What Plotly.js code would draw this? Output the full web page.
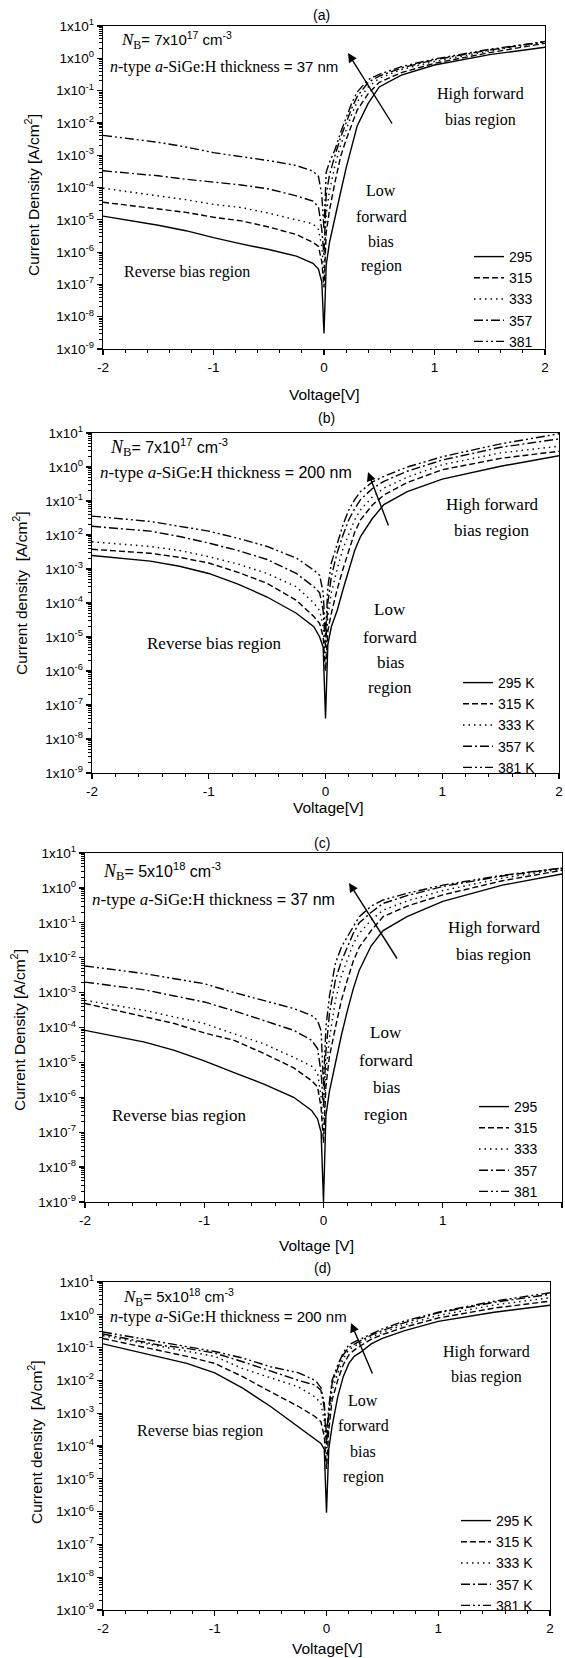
<!DOCTYPE html>
<html>
<head>
<meta charset="utf-8">
<script src="https://cdn.plot.ly/plotly-3.0.1.min.js"></script>
<style>html,body{margin:0;padding:0;background:#fff;}#chart{width:565px;height:1658px;}</style>
</head>
<body>
<div id="chart"></div>
<script>
// ---------------- DATA ----------------
const voltage = [-2, -1.5, -1.25, -1, -0.75, -0.5, -0.25, -0.1, -0.05, -0.02, 0, 0.02, 0.05, 0.1, 0.15, 0.2, 0.25, 0.3, 0.4, 0.5, 0.7, 1.0, 1.5, 2.0];
const tempLabelsA = ['295', '315', '333', '357', '381'];
const tempLabelsB = ['295 K', '315 K', '333 K', '357 K', '381 K'];
const yTickVals = [1e-9, 1e-8, 1e-7, 1e-6, 1e-5, 1e-4, 1e-3, 1e-2, 1e-1, 1e0, 1e1];
const yTickText = ['1x10<sup>-9</sup>', '1x10<sup>-8</sup>', '1x10<sup>-7</sup>', '1x10<sup>-6</sup>', '1x10<sup>-5</sup>', '1x10<sup>-4</sup>', '1x10<sup>-3</sup>', '1x10<sup>-2</sup>', '1x10<sup>-1</sup>', '1x10<sup>0</sup>', '1x10<sup>1</sup>'];
const xTickVals = [-2, -1, 0, 1, 2];
const xTickText = ['-2', '-1', '0', '1', '2'];

// (a) N_B = 7e17, 37 nm
const a295 = [1.3e-5, 6.8e-6, 4.6e-6, 2.8e-6, 1.8e-6, 1.2e-6, 7.5e-7, 4.5e-7, 3e-7, 1.2e-7, 3e-9, 4e-7, 2e-6, 1.3e-5, 7e-5, 4e-4, 1.8e-3, 8e-3, 4e-2, 0.13, 0.3, 0.62, 1.3, 2.2];
const a315 = [3.5e-5, 2.1e-5, 1.7e-5, 1.2e-5, 9.3e-6, 6e-6, 3.5e-6, 2e-6, 1.5e-6, 5e-7, 8e-8, 4e-6, 2e-5, 1.5e-4, 9e-4, 3e-3, 9e-3, 2.5e-2, 8e-2, 0.18, 0.36, 0.7, 1.5, 2.9];
const a333 = [9.5e-5, 5.5e-5, 4.2e-5, 3e-5, 2.4e-5, 1.6e-5, 1e-5, 7.5e-6, 5e-6, 1.5e-6, 2e-7, 1.5e-5, 8e-5, 5e-4, 2e-3, 6e-3, 1.8e-2, 4.5e-2, 0.13, 0.24, 0.45, 0.8, 1.7, 3.2];
const a357 = [3.3e-4, 2.3e-4, 1.8e-4, 1.5e-4, 1.2e-4, 9e-5, 5.5e-5, 3.8e-5, 2.5e-5, 5e-6, 8e-7, 6e-5, 2.5e-4, 1e-3, 3.5e-3, 1e-2, 2.8e-2, 6.5e-2, 0.18, 0.28, 0.5, 0.9, 1.8, 3.3];
const a381 = [4.1e-3, 2.5e-3, 1.8e-3, 1.2e-3, 9e-4, 6.8e-4, 4.8e-4, 3.2e-4, 2.2e-4, 6e-5, 5e-6, 3e-4, 6e-4, 1.5e-3, 5e-3, 1.5e-2, 4e-2, 9e-2, 0.22, 0.32, 0.55, 0.95, 1.9, 3.3];

// (b) N_B = 7e17, 200 nm
const b295 = [2.5e-3, 1.7e-3, 1.2e-3, 7.4e-4, 3.6e-4, 1.5e-4, 5e-5, 2e-5, 1e-5, 5e-6, 4e-8, 6e-6, 2e-5, 6e-5, 2.5e-4, 1e-3, 3.5e-3, 9e-3, 3e-2, 7.8e-2, 0.19, 0.44, 1.05, 2.15];
const b315 = [3.8e-3, 2.9e-3, 2.2e-3, 1.5e-3, 8e-4, 3.8e-4, 1.2e-4, 4e-5, 2.5e-5, 1e-5, 1e-6, 1.5e-5, 5e-5, 2.5e-4, 1e-3, 3.6e-3, 1.2e-2, 2.8e-2, 7.5e-2, 0.15, 0.35, 0.83, 1.8, 2.9];
const b333 = [6.3e-3, 4.6e-3, 3.5e-3, 2.3e-3, 1.4e-3, 7.4e-4, 3e-4, 1e-4, 6e-5, 2e-5, 2e-6, 4e-5, 2e-4, 1e-3, 4e-3, 1.1e-2, 2.8e-2, 5.5e-2, 0.13, 0.24, 0.5, 1.17, 2.6, 4.1];
const b357 = [1.8e-2, 1.3e-2, 9e-3, 5.8e-3, 3.5e-3, 1.9e-3, 7.4e-4, 3e-4, 2e-4, 6e-5, 5e-6, 1e-4, 6e-4, 3e-3, 1e-2, 2.8e-2, 6e-2, 0.11, 0.23, 0.38, 0.75, 1.6, 3.8, 6.7];
const b381 = [3.6e-2, 2.5e-2, 1.8e-2, 1.3e-2, 8e-3, 4.6e-3, 2.1e-3, 9.3e-4, 6.5e-4, 2e-4, 1e-5, 3e-4, 1.5e-3, 6e-3, 2e-2, 5.5e-2, 0.11, 0.19, 0.36, 0.53, 1.0, 2.0, 4.8, 9.5];

// (c) N_B = 5e18, 37 nm
const c295 = [8.3e-5, 3.8e-5, 2.2e-5, 1.1e-5, 5.1e-6, 2.4e-6, 1e-6, 4.2e-7, 2.4e-7, 1e-7, 1e-9, 3e-7, 1.5e-6, 1e-5, 6e-5, 3e-4, 1.3e-3, 4.4e-3, 2.2e-2, 6e-2, 0.15, 0.41, 1.2, 2.5];
const c315 = [4.9e-4, 2e-4, 1.3e-4, 7e-5, 4.3e-5, 1.8e-5, 7e-6, 3e-6, 2e-6, 5e-7, 5e-8, 2e-6, 1.5e-5, 1e-4, 6e-4, 2.3e-3, 8e-3, 2e-2, 6e-2, 0.15, 0.3, 0.63, 1.6, 3.2];
const c333 = [6e-4, 3.1e-4, 2e-4, 1.3e-4, 6.6e-5, 3.4e-5, 1.4e-5, 7.8e-6, 5e-6, 1e-6, 1e-7, 5e-6, 5e-5, 6e-4, 3e-3, 8.5e-3, 2.5e-2, 5e-2, 0.12, 0.23, 0.42, 0.84, 1.9, 3.5];
const c357 = [2e-3, 1.2e-3, 8e-4, 5.4e-4, 3e-4, 1.6e-4, 8.3e-5, 4.3e-5, 2.5e-5, 5e-6, 5e-7, 2e-5, 2.5e-4, 2.3e-3, 8e-3, 2e-2, 5e-2, 0.1, 0.2, 0.36, 0.6, 1.1, 2.2, 3.7];
const c381 = [5.8e-3, 3.5e-3, 2.5e-3, 1.8e-3, 1e-3, 6e-4, 3.5e-4, 2.2e-4, 1.6e-4, 8e-5, 2e-6, 1e-4, 8e-4, 7e-3, 2e-2, 4e-2, 8e-2, 0.15, 0.3, 0.45, 0.7, 1.2, 2.3, 3.7];

// (d) N_B = 5e18, 200 nm
const d295 = [0.13, 5.4e-2, 3.3e-2, 1.7e-2, 5.8e-3, 1.6e-3, 3.8e-4, 1.7e-4, 1.2e-4, 8e-5, 9.3e-7, 8e-5, 4e-4, 3.1e-3, 1.3e-2, 3.3e-2, 5.5e-2, 7e-2, 0.13, 0.19, 0.33, 0.63, 1.2, 1.95];
const d315 = [0.19, 8.5e-2, 5.4e-2, 3.3e-2, 1.3e-2, 4.5e-3, 1.6e-3, 7.8e-4, 5.5e-4, 2e-4, 2e-5, 3e-4, 2.5e-3, 1e-2, 3e-2, 6e-2, 8.5e-2, 0.11, 0.18, 0.25, 0.42, 0.8, 1.6, 2.6];
const d333 = [0.23, 0.11, 7.6e-2, 5.4e-2, 2.3e-2, 1.2e-2, 6.3e-3, 3.1e-3, 2e-3, 6e-4, 5e-5, 6e-4, 5e-3, 1.6e-2, 4.5e-2, 8.6e-2, 0.11, 0.14, 0.21, 0.29, 0.5, 0.95, 2.0, 3.3];
const d357 = [0.26, 0.12, 9.5e-2, 6.8e-2, 3.7e-2, 1.9e-2, 1e-2, 7.2e-3, 5e-3, 1.5e-3, 1e-4, 1e-3, 8e-3, 2.3e-2, 6e-2, 0.1, 0.13, 0.16, 0.24, 0.33, 0.58, 1.15, 2.4, 4.2];
const d381 = [0.3, 0.15, 0.11, 7.6e-2, 4.8e-2, 2.6e-2, 1.7e-2, 1e-2, 6e-3, 2e-3, 2e-4, 1.5e-3, 1e-2, 2.9e-2, 7e-2, 0.12, 0.15, 0.18, 0.27, 0.37, 0.65, 1.2, 2.6, 4.7];

// ---------------- LAYOUT HELPERS ----------------
const W = 565, H = 1658;
const SANS = 'Liberation Sans, Arial, sans-serif';
const SERIF = 'Liberation Serif, Times New Roman, serif';
const px = (x) => x / W;
const py = (y) => 1 - y / H;
const dashes = ['solid', '6px,3px', '1.5px,4px', '9px,3px,2px,3px', '9px,3px,2px,3px,2px,3px'];

const boxes = [
  {x0: 103, x1: 545, y0: 26, y1: 349},
  {x0: 92, x1: 559, y0: 433, y1: 773},
  {x0: 85, x1: 562, y0: 853, y1: 1202},
  {x0: 103, x1: 550, y0: 1282, y1: 1610}
];

const minorY = [];
for (let k = -9; k < 1; k++) for (let m = 2; m <= 9; m++) minorY.push(m * Math.pow(10, k));

function xAxis(b, anchor) {
  return {
    domain: [px(b.x0), px(b.x1)], anchor: anchor, range: [-2, 2],
    tickmode: 'array', tickvals: xTickVals, ticktext: xTickText,
    ticks: 'outside', ticklen: 5, tickwidth: 1.2, tickcolor: '#000',
    showline: true, linecolor: '#000', linewidth: 1.3, mirror: true,
    showgrid: false, zeroline: false,
    tickfont: {family: SANS, size: 13.5, color: '#000'},
    minor: {tickmode: 'linear', tick0: 0, dtick: 0.2, ticks: 'outside', ticklen: 3, tickwidth: 1, tickcolor: '#000', showgrid: false}
  };
}
function yAxis(b, anchor) {
  return {
    domain: [py(b.y1), py(b.y0)], anchor: anchor, type: 'log', range: [-9, 1],
    tickmode: 'array', tickvals: yTickVals, ticktext: yTickText,
    ticks: 'outside', ticklen: 5, tickwidth: 1.2, tickcolor: '#000',
    showline: true, linecolor: '#000', linewidth: 1.3, mirror: true,
    showgrid: false, zeroline: false,
    tickfont: {family: SANS, size: 13.5, color: '#000'},
    minor: {tickmode: 'array', tickvals: minorY, ticks: 'outside', ticklen: 3, tickwidth: 1, tickcolor: '#000', showgrid: false}
  };
}

const panels = [
  {series: [a295, a315, a333, a357, a381], names: tempLabelsA, xa: 'x', ya: 'y', lg: 'legend'},
  {series: [b295, b315, b333, b357, b381], names: tempLabelsB, xa: 'x2', ya: 'y2', lg: 'legend2'},
  {series: [c295, c315, c333, c357, c381], names: tempLabelsA, xa: 'x3', ya: 'y3', lg: 'legend3'},
  {series: [d295, d315, d333, d357, d381], names: tempLabelsB, xa: 'x4', ya: 'y4', lg: 'legend4'}
];

const traces = [];
panels.forEach(p => {
  p.series.forEach((s, i) => {
    traces.push({
      x: voltage, y: s, type: 'scatter', mode: 'lines', name: p.names[i],
      xaxis: p.xa, yaxis: p.ya, legend: p.lg,
      line: {color: '#000', width: 1.4, dash: dashes[i]}
    });
  });
});

function legendAt(left, top, size) {
  return {x: px(left), y: py(top), xanchor: 'left', yanchor: 'top',
    bgcolor: 'rgba(0,0,0,0)', borderwidth: 0, itemwidth: 30, tracegroupgap: 0,
    font: {family: SANS, size: size, color: '#000'}};
}

const annotations = [];
function txt(x, y, text, opts) {
  opts = opts || {};
  annotations.push(Object.assign({
    xref: 'paper', yref: 'paper', x: px(x), y: py(y), text: text, showarrow: false,
    xanchor: 'center', yanchor: 'middle',
    font: {family: SERIF, size: 16, color: '#000'}
  }, opts));
}
function arrow(hx, hy, tx, ty) {
  annotations.push({xref: 'paper', yref: 'paper', x: px(hx), y: py(hy), ax: tx - hx, ay: ty - hy,
    axref: 'pixel', ayref: 'pixel', text: '', showarrow: true, arrowhead: 2, arrowsize: 1.3,
    arrowwidth: 1.4, arrowcolor: '#000', standoff: 0});
}
function sansSpan(s, size) { return '<span style="font-family:Liberation Sans;font-size:' + size + 'px">' + s + '</span>'; }

// panel labels
const sansF = (s) => ({family: SANS, size: s, color: '#000'});
txt(321, 15, '(a)', {font: sansF(14)});
txt(326, 418, '(b)', {font: sansF(14)});
txt(322, 843, '(c)', {font: sansF(14)});
txt(322, 1268, '(d)', {font: sansF(14)});

// x titles
txt(324, 394, 'Voltage[V]', {font: sansF(15.5)});
txt(328, 807, 'Voltage[V]', {font: sansF(15.5)});
txt(316, 1245, 'Voltage [V]', {font: sansF(15.5)});
txt(327, 1648, 'Voltage[V]', {font: sansF(15.5)});

// y titles
txt(32, 195, 'Current Density [A/cm<sup>2</sup>]', {font: sansF(15.5), textangle: -90});
txt(20, 593, 'Current density  [A/cm<sup>2</sup>]', {font: sansF(15.5), textangle: -90});
txt(18, 1030, 'Current Density [A/cm<sup>2</sup>]', {font: sansF(15.5), textangle: -90});
txt(35, 1442, 'Current density  [A/cm<sup>2</sup>]', {font: sansF(15.5), textangle: -90});

// in-plot texts
function infoBlock(xN, yN, xT, yT, nb, thick, serifSize, sansSize) {
  txt(xN, yN, '<i>N</i><sub>B</sub>' + sansSpan('= ' + nb + ' cm<sup>-3</sup>', sansSize), {xanchor: 'left', font: {family: SERIF, size: serifSize + 1, color: '#000'}});
  txt(xT, yT, '<i>n</i>-type <i>a</i>-SiGe:H thickness ' + sansSpan('= ' + thick, sansSize), {xanchor: 'left', font: {family: SERIF, size: serifSize, color: '#000'}});
}
function regions(hx, hy1, hy2, lx, ly, rx, ry, size) {
  const f = {family: SERIF, size: size, color: '#000'};
  txt(hx, hy1, 'High forward', {font: f});
  txt(hx, hy2, 'bias region', {font: f});
  ['Low', 'forward', 'bias', 'region'].forEach((w, i) => txt(lx, ly[i], w, {font: f}));
  txt(rx, ry, 'Reverse bias region', {font: f});
}

infoBlock(119, 40, 108, 67, '7x10<sup>17</sup>', '37 nm', 16, 15);
regions(481, 94, 120, 381, [190, 216, 241, 266], 187, 272, 16);
arrow(348, 53, 393, 125);

infoBlock(108, 448, 98, 472, '7x10<sup>17</sup>', '200 nm', 17, 16);
regions(492, 504, 530, 390, [610, 637, 662, 687], 214, 643, 17);
arrow(368, 472, 389, 527);

infoBlock(101, 872, 90, 899, '5x10<sup>18</sup>', '37 nm', 17, 16);
regions(494, 927, 954, 386, [1032, 1060, 1087, 1114], 179, 1115, 17);
arrow(349, 883, 398, 960);

infoBlock(121, 1297, 108, 1317, '5x10<sup>18</sup>', '200 nm', 16, 15);
regions(486, 1352, 1377, 363, [1400, 1425, 1451, 1477], 200, 1431, 16);
arrow(351, 1323, 373, 1375);

const layout = {
  width: W, height: H,
  margin: {l: 0, r: 0, t: 0, b: 0},
  paper_bgcolor: '#fff', plot_bgcolor: '#fff',
  showlegend: true,
  xaxis: xAxis(boxes[0], 'y'), yaxis: yAxis(boxes[0], 'x'),
  xaxis2: xAxis(boxes[1], 'y2'), yaxis2: yAxis(boxes[1], 'x2'),
  xaxis3: xAxis(boxes[2], 'y3'), yaxis3: yAxis(boxes[2], 'x3'),
  xaxis4: xAxis(boxes[3], 'y4'), yaxis4: yAxis(boxes[3], 'x4'),
  legend: legendAt(469, 241, 14),
  legend2: legendAt(458, 667, 14),
  legend3: legendAt(474, 1091, 14),
  legend4: legendAt(456, 1505, 14),
  annotations: annotations
};

Plotly.newPlot('chart', traces, layout, {displayModeBar: false, staticPlot: true});
</script>
</body>
</html>
